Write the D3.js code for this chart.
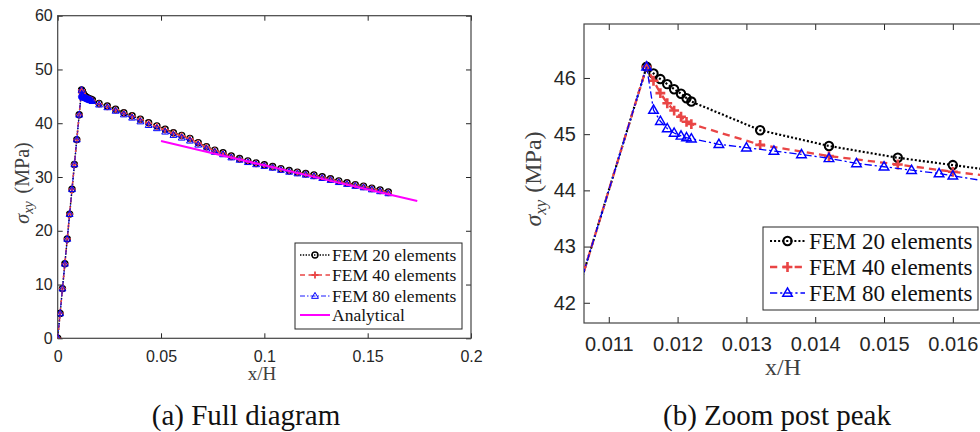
<!DOCTYPE html>
<html>
<head>
<meta charset="utf-8">
<script src="https://cdn.jsdelivr.net/npm/d3@7"></script>
<style>
  body { margin: 0; background: #fff; }
  svg { display: block; }
</style>
</head>
<body>
<svg id="chart" width="980" height="432"></svg>
<script>
// ---- data ----
// elastic branch (same for every mesh)
const elasticX = [0, 0.001155, 0.00231, 0.003465, 0.00462, 0.005775, 0.00693, 0.008085, 0.00924, 0.010395, 0.01155];
const elasticY = [0, 4.62, 9.24, 13.86, 18.48, 23.10, 27.72, 32.34, 36.96, 41.58, 46.20];

// load steps right after the peak
const nearX = [0.01165, 0.01175, 0.01185, 0.01195, 0.01205, 0.01213, 0.0122];
const fem20Near = [46.08, 45.98, 45.89, 45.80, 45.72, 45.64, 45.58];
const fem40Near = [45.95, 45.73, 45.55, 45.42, 45.31, 45.22, 45.18];
const fem80Near = [45.43, 45.23, 45.10, 45.02, 44.97, 44.94, 44.92];

// softening steps (zoom window)
const midX20 = [0.0132, 0.0142, 0.0152, 0.0160, 0.0168];
const fem20Mid = [45.07, 44.79, 44.58, 44.45, 44.32];
const fem40Mid = [44.81, 44.61, 44.46, 44.33, 44.22];
const midX80 = [0.0126, 0.0130, 0.0134, 0.0138, 0.0142, 0.0146, 0.0150, 0.0154, 0.0158, 0.0160, 0.0168];
const fem80Mid = [44.82, 44.76, 44.70, 44.64, 44.57, 44.48, 44.42, 44.36, 44.30, 44.26, 44.10];

// softening steps (full diagram)
const farX = [0.020, 0.024, 0.028, 0.032, 0.036, 0.040, 0.044, 0.048, 0.052, 0.056, 0.060, 0.064,
              0.068, 0.072, 0.076, 0.080, 0.084, 0.088, 0.092, 0.096, 0.100, 0.104, 0.108, 0.112,
              0.116, 0.120, 0.124, 0.128, 0.132, 0.136, 0.140, 0.144, 0.148, 0.152, 0.156, 0.160];
const fem20Far = [43.70, 43.20, 42.60, 41.96, 41.40, 40.75, 40.10, 39.50, 38.87, 38.24, 37.75, 37.19,
                  36.40, 35.65, 35.00, 34.50, 33.90, 33.44, 33.00, 32.60, 32.28, 31.95, 31.55, 31.20,
                  30.90, 30.65, 30.37, 30.05, 29.68, 29.28, 28.94, 28.58, 28.30, 27.92, 27.58, 27.20];
const fem40Far = [43.58, 43.08, 42.48, 41.84, 41.28, 40.63, 39.98, 39.38, 38.75, 38.12, 37.63, 37.07,
                  36.28, 35.53, 34.88, 34.38, 33.78, 33.32, 32.88, 32.48, 32.16, 31.83, 31.43, 31.08,
                  30.78, 30.53, 30.25, 29.93, 29.56, 29.16, 28.82, 28.46, 28.18, 27.80, 27.46, 27.08];
const fem80Far = [43.45, 42.95, 42.30, 41.62, 41.02, 40.32, 39.65, 39.05, 38.42, 37.80, 37.30, 36.75,
                  36.00, 35.25, 34.65, 34.20, 33.62, 33.18, 32.75, 32.35, 32.03, 31.70, 31.30, 30.95,
                  30.65, 30.40, 30.12, 29.80, 29.43, 29.03, 28.69, 28.33, 28.05, 27.67, 27.33, 26.95];

// analytical softening line
const analyticX = [0.050, 0.075, 0.100, 0.125, 0.150, 0.174];
const analyticY = [36.70, 34.42, 32.17, 29.93, 27.68, 25.52];

// ticks
const xTicksA = [0, 0.05, 0.1, 0.15, 0.2];
const xTickLabelsA = ["0", "0.05", "0.1", "0.15", "0.2"];
const yTicksA = [0, 10, 20, 30, 40, 50, 60];
const xTicksB = [0.011, 0.012, 0.013, 0.014, 0.015, 0.016];
const xTickLabelsB = ["0.011", "0.012", "0.013", "0.014", "0.015", "0.016"];
const yTicksB = [42, 43, 44, 45, 46];

const legendNames = ["FEM 20 elements", "FEM 40 elements", "FEM 80 elements", "Analytical"];

// stitch the branches together
function zipXY(xs, ys) { return xs.map((x, i) => [x, ys[i]]); }
const fem20 = zipXY(elasticX.concat(nearX, midX20, farX), elasticY.concat(fem20Near, fem20Mid, fem20Far));
const fem40 = zipXY(elasticX.concat(nearX, midX20, farX), elasticY.concat(fem40Near, fem40Mid, fem40Far));
const fem80 = zipXY(elasticX.concat(nearX, midX80, farX), elasticY.concat(fem80Near, fem80Mid, fem80Far));
const analytic = zipXY(analyticX, analyticY);

const red = "#e94545";
const SERIF = "'Liberation Serif', 'DejaVu Serif', serif";
const SANS = "'Liberation Sans', Arial, sans-serif";

const svg = d3.select("#chart");

// panel (a)
drawPanel({
    id: "a",
    x0: 57.7, x1: 471, y0: 15.7, y1: 338.3,
    xDomain: [0, 0.2], yDomain: [0, 60],
    xTicks: xTicksA, xLabels: xTickLabelsA, yTicks: yTicksA,
    tickFont: 16, tickLen: 5, xPad: 12, yPad: 5,
    mk: 1, lw: 1,
    withAnalytic: true,
    xLab: { x: 262, y: 380, size: 19 },
    yLab: { x: 29, y: 183, size: 20, gap: 8 },
    caption: { text: "(a) Full diagram", x: 246, y: 425 },
    legend: { x: 295, y: 243, w: 167, h: 86, rows: [255, 275, 296, 315], s0: 300, s1: 330, tx: 332, size: 17.5 }
});

// panel (b)
drawPanel({
    id: "b",
    x0: 584, x1: 1001, y0: 24, y1: 323,
    xDomain: [0.01064, 0.0167], yDomain: [41.64, 46.96],
    xTicks: xTicksB, xLabels: xTickLabelsB, yTicks: yTicksB,
    tickFont: 20, tickLen: 6, xPad: 14, yPad: 8,
    mk: 1.4, lw: 1.45,
    withAnalytic: false,
    xLab: { x: 783, y: 375, size: 24 },
    yLab: { x: 541, y: 179, size: 24, gap: 7 },
    caption: { text: "(b) Zoom post peak", x: 777, y: 425 },
    legend: { x: 763, y: 227, w: 215, h: 83, rows: [241, 267, 293], s0: 770, s1: 805, tx: 809, size: 23 }
});

function drawPanel(p) {
    const g = svg.append("g");
    const x = d3.scaleLinear().domain(p.xDomain).range([p.x0, p.x1]);
    const y = d3.scaleLinear().domain(p.yDomain).range([p.y1, p.y0]);

    // clip to the axes box
    svg.append("clipPath").attr("id", "clip" + p.id)
        .append("rect")
        .attr("x", p.x0).attr("y", p.y0)
        .attr("width", p.x1 - p.x0).attr("height", p.y1 - p.y0);

    // ticks on all four sides, pointing in
    const axisColor = "#262626";
    const bottom = g.append("g")
        .attr("transform", "translate(0," + p.y1 + ")")
        .call(d3.axisBottom(x).tickValues(p.xTicks).tickSizeInner(-p.tickLen).tickSizeOuter(0)
            .tickPadding(p.xPad).tickFormat((d, i) => p.xLabels[i]));
    const left = g.append("g")
        .attr("transform", "translate(" + p.x0 + ",0)")
        .call(d3.axisLeft(y).tickValues(p.yTicks).tickSizeInner(-p.tickLen).tickSizeOuter(0)
            .tickPadding(p.yPad).tickFormat(d3.format("d")));
    const top = g.append("g")
        .attr("transform", "translate(0," + p.y0 + ")")
        .call(d3.axisTop(x).tickValues(p.xTicks).tickSizeInner(-p.tickLen).tickSizeOuter(0).tickFormat(""));
    const right = g.append("g")
        .attr("transform", "translate(" + p.x1 + ",0)")
        .call(d3.axisRight(y).tickValues(p.yTicks).tickSizeInner(-p.tickLen).tickSizeOuter(0).tickFormat(""));
    [bottom, left, top, right].forEach(a => {
        a.select(".domain").remove();
        a.attr("font-family", SANS);
        a.selectAll("line").attr("stroke", axisColor).attr("stroke-width", 1);
        a.selectAll("text").attr("font-size", p.tickFont).attr("fill", "#262626");
    });
    g.append("rect")
        .attr("x", p.x0).attr("y", p.y0)
        .attr("width", p.x1 - p.x0).attr("height", p.y1 - p.y0)
        .attr("fill", "none").attr("stroke", "#444").attr("stroke-width", 1.2);

    // curves
    const plot = g.append("g").attr("clip-path", "url(#clip" + p.id + ")");
    const line = d3.line().x(d => x(d[0])).y(d => y(d[1]));
    const styles = seriesStyles(p);
    const series = [fem20, fem40, fem80];
    series.forEach((data, k) => {
        const s = styles[k];
        plot.append("path").datum(data)
            .attr("d", line)
            .attr("fill", "none")
            .attr("stroke", s.color)
            .attr("stroke-width", s.width)
            .attr("stroke-dasharray", s.dash);
        plot.selectAll(".m" + k)
            .data(data)
            .enter()
            .append("path")
            .attr("class", "m" + k)
            .attr("transform", d => "translate(" + x(d[0]) + "," + y(d[1]) + ")")
            .attr("d", s.marker)
            .attr("fill", "none")
            .attr("stroke", s.color)
            .attr("stroke-width", s.mWidth);
    });
    if (p.withAnalytic) {
        plot.append("path").datum(analytic)
            .attr("d", line)
            .attr("fill", "none")
            .attr("stroke", "#ff00ff")
            .attr("stroke-width", 2);
    }

    // axis labels
    g.append("text")
        .attr("font-family", SERIF)
        .attr("x", p.xLab.x).attr("y", p.xLab.y)
        .attr("text-anchor", "middle")
        .attr("font-size", p.xLab.size)
        .attr("fill", "#404040")
        .text("x/H");
    const yl = g.append("text")
        .attr("font-family", SERIF)
        .attr("transform", "translate(" + p.yLab.x + "," + p.yLab.y + ") rotate(-90)")
        .attr("text-anchor", "middle")
        .attr("font-size", p.yLab.size)
        .attr("fill", "#404040");
    yl.append("tspan").attr("font-style", "italic").text("σ");
    yl.append("tspan").attr("font-style", "italic")
        .attr("font-size", p.yLab.size * 0.7).attr("dy", p.yLab.size * 0.2).text("xy");
    yl.append("tspan").attr("dy", -p.yLab.size * 0.2).attr("dx", p.yLab.gap).text("(MPa)");

    // caption
    svg.append("text")
        .attr("font-family", SERIF)
        .attr("x", p.caption.x).attr("y", p.caption.y)
        .attr("text-anchor", "middle")
        .attr("font-size", 29)
        .attr("fill", "#111")
        .text(p.caption.text);

    drawLegend(p, styles);
}

// matlab-like line specs, scaled per panel
function seriesStyles(p) {
    const m = p.mk, w = p.lw;
    const circle = r => "M" + r + ",0A" + r + "," + r + " 0 1,1 " + (-r) + ",0A" + r + "," + r + " 0 1,1 " + r + ",0Z";
    const plus = s => "M" + (-s) + ",0H" + s + "M0," + (-s) + "V" + s;
    const tri = s => "M0," + (-s) + "L" + (s * 0.95) + "," + (s * 0.65) + "L" + (-s * 0.95) + "," + (s * 0.65) + "Z";
    return [
        { color: "#000", width: 1.5 * w, dash: (1.4 * w) + "," + (1.4 * w), marker: circle(3 * m), mWidth: 1.4 * w },
        { color: red, width: 1.6 * w, dash: (5 * w) + "," + (3.5 * w), marker: plus(3.5 * m), mWidth: 1.8 * w },
        { color: "#0000ff", width: 0.9 * w, dash: (5 * w) + "," + (2 * w) + "," + (1.5 * w) + "," + (2 * w), marker: tri(3.6 * m), mWidth: 1 * w }
    ];
}

function drawLegend(p, styles) {
    const L = p.legend;
    const g = svg.append("g");
    g.append("rect")
        .attr("x", L.x).attr("y", L.y).attr("width", L.w).attr("height", L.h)
        .attr("fill", "#fff").attr("stroke", "#262626").attr("stroke-width", 1);
    L.rows.forEach((ry, i) => {
        const mid = (L.s0 + L.s1) / 2;
        if (i < 3) {
            const s = styles[i];
            g.append("line")
                .attr("x1", L.s0).attr("x2", L.s1).attr("y1", ry).attr("y2", ry)
                .attr("stroke", s.color).attr("stroke-width", s.width)
                .attr("stroke-dasharray", s.dash);
            g.append("path")
                .attr("transform", "translate(" + mid + "," + ry + ")")
                .attr("d", s.marker)
                .attr("fill", "none").attr("stroke", s.color).attr("stroke-width", s.mWidth);
        } else {
            g.append("line")
                .attr("x1", L.s0).attr("x2", L.s1).attr("y1", ry).attr("y2", ry)
                .attr("stroke", "#ff00ff").attr("stroke-width", 2);
        }
        g.append("text")
            .attr("font-family", SERIF)
            .attr("x", L.tx).attr("y", ry)
            .attr("dy", "0.35em")
            .attr("font-size", L.size)
            .attr("fill", "#111")
            .text(legendNames[i]);
    });
}
</script>
</body>
</html>
